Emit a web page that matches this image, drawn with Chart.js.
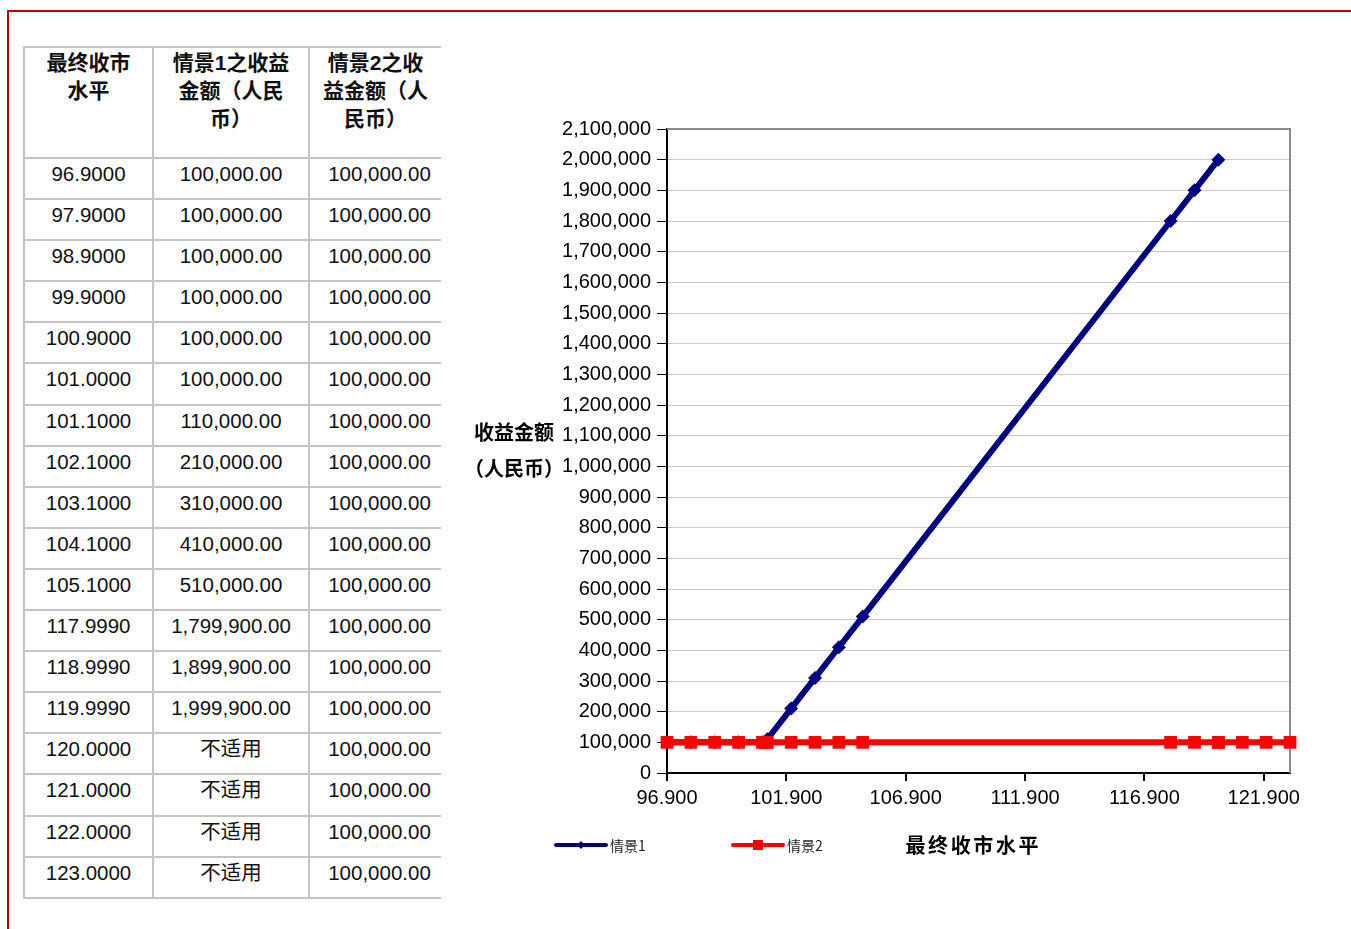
<!DOCTYPE html>
<html>
<head>
<meta charset="utf-8">
<script src="https://cdn.jsdelivr.net/npm/chart.js@4/dist/chart.umd.min.js"></script>
<style>
  body { margin: 0; background: #fff; width: 1351px; height: 929px; overflow: hidden; position: relative; font-family: "Liberation Sans", "Noto Sans CJK SC", sans-serif; }
  .frame-top { position: absolute; left: 8px; top: 10px; width: 1343px; height: 2px; background: #c00000; }
  .frame-left { position: absolute; left: 7px; top: 10px; width: 2px; height: 919px; background: #c00000; }
  table { position: absolute; left: 23px; top: 46px; border-collapse: collapse; table-layout: fixed; }
  td, th { border: 2px solid #c4c4c4; text-align: center; vertical-align: top; padding: 0; color: #111; box-sizing: border-box; }
  th { height: 111px; font-size: 21px; font-weight: bold; line-height: 28px; padding-top: 1px; }
  td { height: 41.1px; font-size: 20.5px; line-height: 24px; padding-top: 3px; }
  td:last-child { padding-left: 8px; }
  td:last-child, th:last-child { border-right: none; }
  .wrap { position: absolute; left: 460px; top: 100px; width: 860px; height: 800px; }
</style>
</head>
<body>
<div class="frame-top"></div>
<div class="frame-left"></div>
<table id="tbl">
  <colgroup><col style="width:129px"><col style="width:156px"><col style="width:132px"></colgroup>
  <thead>
    <tr><th>最终收市<br>水平</th><th>情景1之收益<br>金额（人民<br>币）</th><th>情景2之收<br>益金额（人<br>民币）</th></tr>
  </thead>
  <tbody></tbody>
</table>
<div class="wrap"><canvas id="chart"></canvas></div>
<script>
// final closing levels and payoffs (RMB)
const levels = [96.9, 97.9, 98.9, 99.9, 100.9, 101.0, 101.1, 102.1, 103.1, 104.1, 105.1, 117.999, 118.999, 119.999, 120.0, 121.0, 122.0, 123.0];
const payoff1 = [100000, 100000, 100000, 100000, 100000, 100000, 110000, 210000, 310000, 410000, 510000, 1799900, 1899900, 1999900, null, null, null, null];
const payoff2 = [100000, 100000, 100000, 100000, 100000, 100000, 100000, 100000, 100000, 100000, 100000, 100000, 100000, 100000, 100000, 100000, 100000, 100000];
const seriesNames = ['情景1', '情景2'];
const xTicks = [96.9, 101.9, 106.9, 111.9, 116.9, 121.9];

// table
const fmt2 = v => v.toLocaleString('en-US', { minimumFractionDigits: 2, maximumFractionDigits: 2 });
const tbody = document.querySelector('#tbl tbody');
levels.forEach((lv, i) => {
  const tr = document.createElement('tr');
  tr.innerHTML = '<td>' + lv.toFixed(4) + '</td><td>' + (payoff1[i] === null ? '不适用' : fmt2(payoff1[i])) +
    '</td><td>' + fmt2(payoff2[i]) + '</td>';
  tbody.appendChild(tr);
});

Chart.defaults.color = '#000';
Chart.defaults.font.family = '"Liberation Sans", "Noto Sans CJK SC", sans-serif';

const FONT_CJK = '"Noto Sans CJK SC", "Liberation Sans", sans-serif';

// extra text, legend and plot frame
const extras = {
  id: 'extras',
  beforeDatasetsDraw(chart) {
    const { ctx, chartArea: a } = chart;
    ctx.save();
    ctx.strokeStyle = '#8c8c8c';
    ctx.lineWidth = 2;
    ctx.beginPath();
    ctx.moveTo(a.left, a.top);
    ctx.lineTo(a.right, a.top);
    ctx.lineTo(a.right, a.bottom);
    ctx.stroke();
    ctx.restore();
  },
  afterDraw(chart) {
    const { ctx, chartArea: a } = chart;
    const ds = chart.data.datasets;
    ctx.save();
    // y title
    ctx.fillStyle = '#000';
    ctx.font = 'bold 20px ' + FONT_CJK;
    ctx.textAlign = 'center';
    ctx.textBaseline = 'middle';
    const mid = (a.top + a.bottom) / 2;
    ctx.fillText('收益金额', a.left - 153, mid - 19);
    ctx.fillText('（人民币）', a.left - 153, mid + 17);

    // legend
    const ly = a.bottom + 72;
    const items = [{ x0: a.left - 111, ds: ds[0], shape: 'diamond' }, { x0: a.left + 66, ds: ds[1], shape: 'square' }];
    items.forEach(it => {
      ctx.strokeStyle = it.ds.borderColor;
      ctx.lineWidth = 4;
      ctx.lineCap = 'round';
      ctx.beginPath();
      ctx.moveTo(it.x0, ly);
      ctx.lineTo(it.x0 + 50, ly);
      ctx.stroke();
      ctx.fillStyle = it.ds.borderColor;
      const cx = it.x0 + 25;
      if (it.shape === 'square') {
        ctx.fillRect(cx - 5, ly - 5, 10, 10);
      } else {
        ctx.beginPath();
        ctx.moveTo(cx, ly - 4); ctx.lineTo(cx + 4, ly); ctx.lineTo(cx, ly + 4); ctx.lineTo(cx - 4, ly);
        ctx.closePath(); ctx.fill();
      }
      ctx.fillStyle = '#222';
      ctx.font = '14px ' + FONT_CJK;
      ctx.textAlign = 'left';
      ctx.fillText(it.ds.label, it.x0 + 54, ly + 1);
    });

    // x title, spaced characters
    ctx.fillStyle = '#000';
    ctx.font = 'bold 20px ' + FONT_CJK;
    ctx.textAlign = 'center';
    const title = '最终收市水平';
    const step = 22.6;
    const start = a.left + 305 - step * (title.length - 1) / 2;
    for (let i = 0; i < title.length; i++) ctx.fillText(title[i], start + i * step, ly);
    ctx.restore();
  }
};

new Chart(document.getElementById('chart'), {
  type: 'line',
  data: {
    datasets: [
      {
        label: seriesNames[0],
        data: levels.map((x, i) => ({ x: x, y: payoff1[i] })),
        borderColor: '#000080',
        backgroundColor: '#000080',
        borderWidth: 6,
        pointStyle: 'rectRot',
        pointRadius: 7,
        pointBorderWidth: 0,
        order: 1,
        clip: false
      },
      {
        label: seriesNames[1],
        data: levels.map((x, i) => ({ x: x, y: payoff2[i] })),
        borderColor: '#ff0000',
        backgroundColor: '#ff0000',
        borderWidth: 6,
        pointStyle: 'rect',
        pointRadius: 9,
        pointBorderWidth: 0,
        order: 0,
        clip: false
      }
    ]
  },
  options: {
    responsive: true,
    maintainAspectRatio: false,
    animation: false,
    layout: { padding: { left: 0, top: 29, right: 30, bottom: 0 } },
    plugins: { legend: { display: false }, tooltip: { enabled: false } },
    elements: { line: { tension: 0 } },
    scales: {
      x: {
        type: 'linear',
        min: 96.9,
        max: 123,
        afterBuildTicks: s => { s.ticks = xTicks.map(v => ({ value: v })); },
        afterFit: s => { s.height = 127; },
        grid: { drawOnChartArea: false, color: '#000', tickLength: 8, lineWidth: 2 },
        border: { color: '#000', width: 2 },
        ticks: {
          font: { size: 20 },
          padding: 5,
          maxRotation: 0,
          autoSkip: false,
          callback: v => Number(v).toFixed(3)
        }
      },
      y: {
        min: 0,
        max: 2100000,
        afterFit: s => { s.width = 207; },
        grid: { color: '#cccccc', tickColor: '#000', tickLength: 10, lineWidth: 1 },
        border: { color: '#000', width: 2 },
        ticks: {
          stepSize: 100000,
          font: { size: 20 },
          padding: 6,
          autoSkip: false,
          callback: v => Number(v).toLocaleString('en-US')
        }
      }
    }
  },
  plugins: [extras]
});
</script>
</body>
</html>
